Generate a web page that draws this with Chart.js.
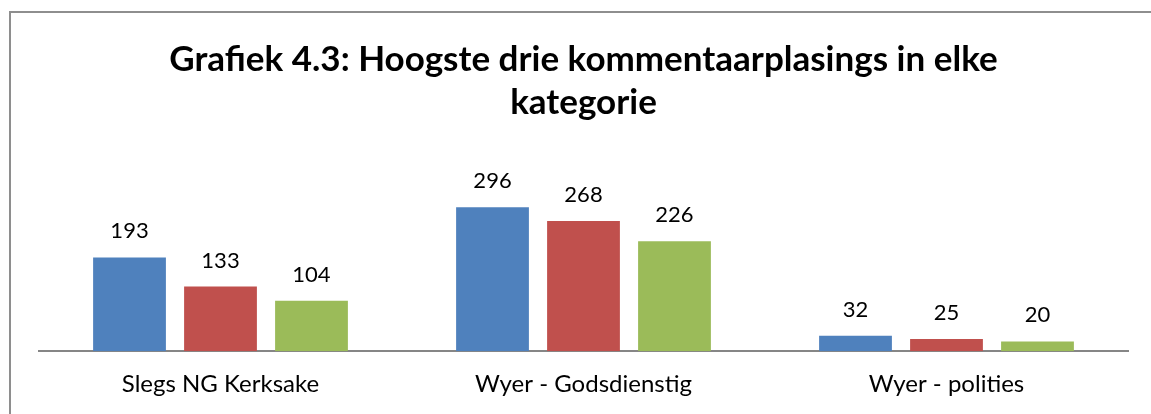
<!DOCTYPE html>
<html>
<head>
<meta charset="utf-8">
<script src="https://cdn.jsdelivr.net/npm/chart.js@4"></script>
<style>
    html, body { margin: 0; padding: 0; background: #ffffff; }
    #wrap { width: 1151px; height: 414px; }
</style>
</head>
<body>
<div id="wrap"><canvas id="chart" width="1151" height="414"></canvas></div>
<script>
// data
categories = ["Slegs NG Kerksake", "Wyer - Godsdienstig", "Wyer - polities"]
first_values = [193, 296, 32]
second_values = [133, 268, 25]
third_values = [104, 226, 20]
series_names = ["Reeks1", "Reeks2", "Reeks3"]
title_lines = ["Grafiek 4.3: Hoogste drie kommentaarplasings in elke", "kategorie"]

// frame round the whole chart, like the office chart area
frame_plugin = {
    id: "frame",
    beforeDraw(chart) {
        let ctx = chart.ctx;
        ctx.save();
        ctx.fillStyle = "#ffffff";
        ctx.fillRect(0, 0, chart.width, chart.height);
        ctx.strokeStyle = "#8e8e8e";
        ctx.lineWidth = 2;
        ctx.strokeRect(10, 12, chart.width + 20, chart.height + 20);
        ctx.restore();
    }
};

// value above each bar
value_labels = {
    id: "value_labels",
    afterDatasetsDraw(chart) {
        let ctx = chart.ctx;
        ctx.save();
        ctx.font = "22px Lato";
        ctx.fillStyle = "#000000";
        ctx.textAlign = "center";
        ctx.textBaseline = "alphabetic";
        chart.data.datasets.forEach((ds, i) => {
            chart.getDatasetMeta(i).data.forEach((bar, j) => {
                ctx.fillText(ds.data[j], bar.x, bar.y - 19);
            });
        });
        ctx.restore();
    }
};

chart = new Chart(document.getElementById("chart").getContext("2d"), {
    type: "bar",
    data: {
        labels: categories,
        datasets: [
            { label: series_names[0], data: first_values, backgroundColor: "#4f81bd" },
            { label: series_names[1], data: second_values, backgroundColor: "#c0504d" },
            { label: series_names[2], data: third_values, backgroundColor: "#9bbb59" }
        ]
    },
    options: {
        responsive: false,
        animation: false,
        maintainAspectRatio: false,
        layout: { padding: { left: 39, right: 23, top: 0, bottom: -4 } },
        datasets: {
            bar: { barPercentage: 0.8, categoryPercentage: 0.752 }
        },
        plugins: {
            legend: { display: false },
            tooltip: { enabled: false },
            title: {
                display: true,
                text: title_lines,
                color: "#000000",
                font: { family: "Lato", size: 35, weight: "bold", lineHeight: 1.23 },
                padding: { top: 38, bottom: 57 }
            }
        },
        scales: {
            x: {
                grid: { display: false, drawTicks: false, tickLength: 0 },
                border: { display: true, color: "#868686", width: 2 },
                ticks: { color: "#000000", font: { family: "Lato", size: 24 }, padding: 19 }
            },
            y: {
                display: false,
                min: 0,
                max: 350
            }
        }
    },
    plugins: [frame_plugin, value_labels]
});
</script>
</body>
</html>
